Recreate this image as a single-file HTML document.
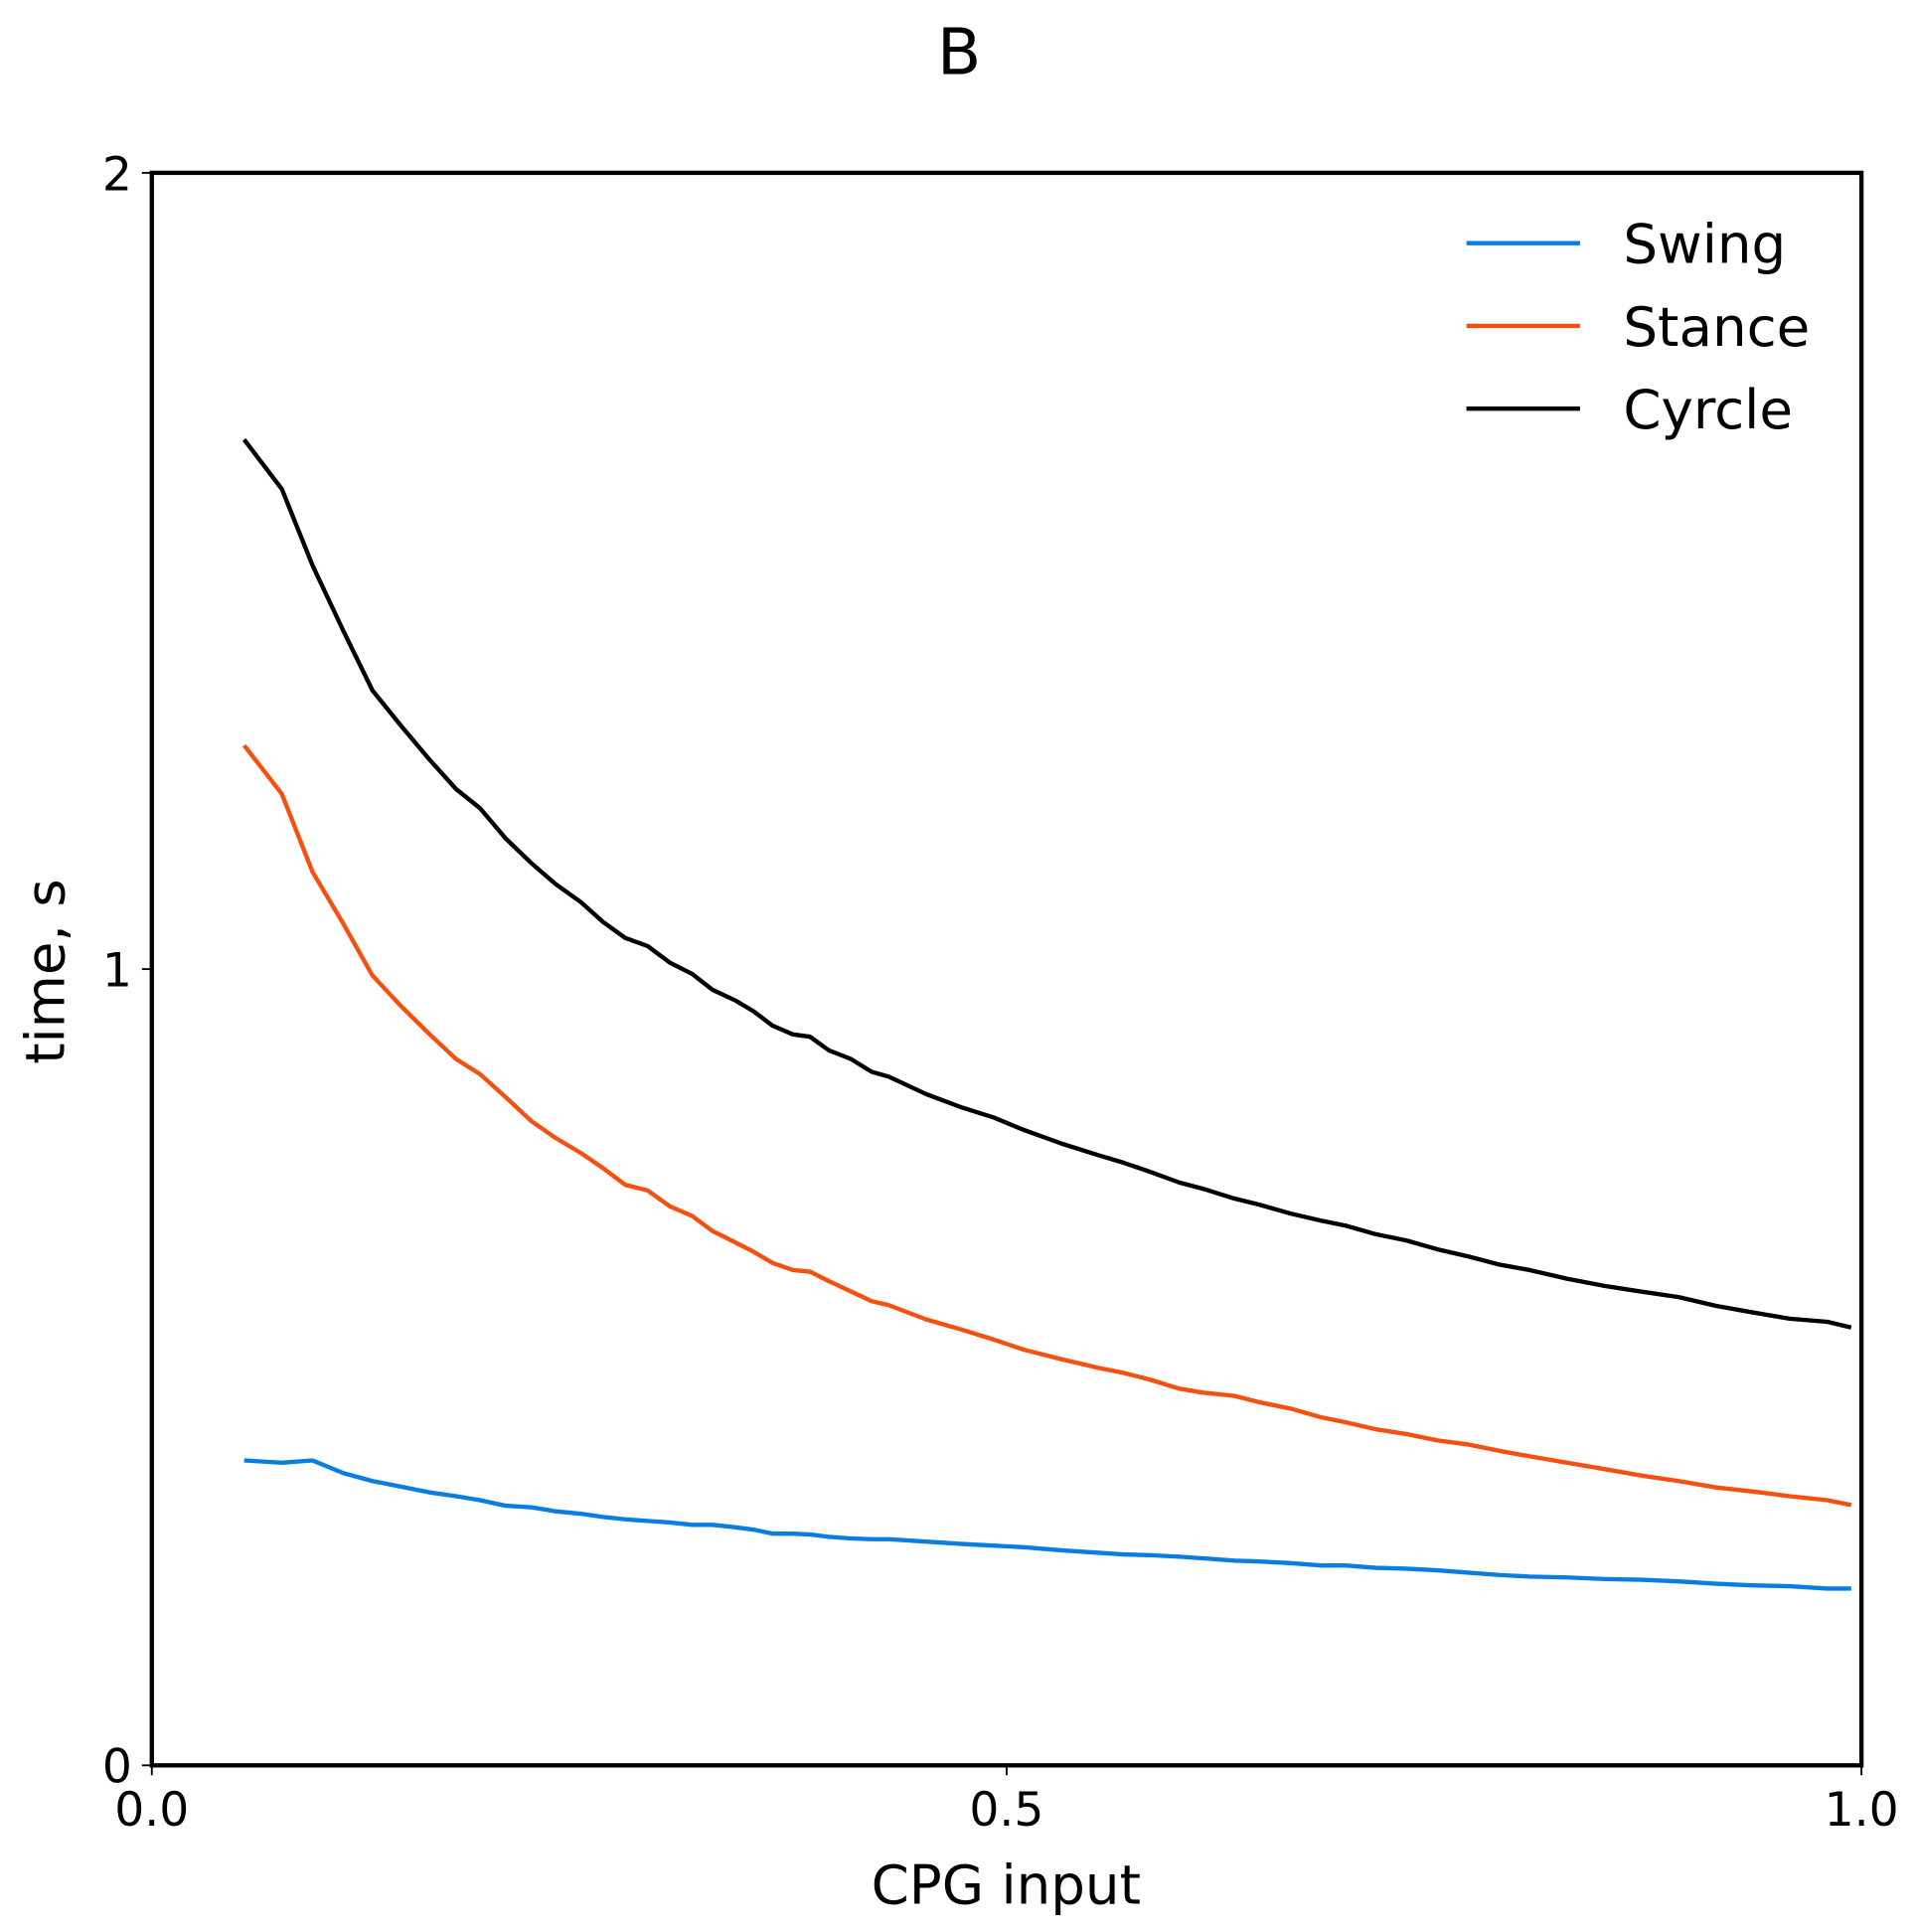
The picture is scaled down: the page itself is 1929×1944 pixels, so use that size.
<!DOCTYPE html>
<html><head><meta charset="utf-8"><style>
html,body{margin:0;padding:0;background:#fff;}
svg{display:block;font-family:"DejaVu Sans","Liberation Sans",sans-serif;}
</style></head><body>
<svg id="chart" width="1929" height="1944" viewBox="0 0 1553 1565" preserveAspectRatio="none" xmlns="http://www.w3.org/2000/svg">
<rect width="1553" height="1565" fill="#fff"/>
<text x="777" y="60" font-size="52" text-anchor="middle">B</text>
<g id="marks"></g>
<rect x="123" y="140" width="1385" height="1290" fill="none" stroke="#000" stroke-width="3.5"/>
<g id="ticks"></g>
<text x="815" y="1542" font-size="44" text-anchor="middle">CPG input</text>
<text transform="translate(52,787) rotate(-90)" font-size="44" text-anchor="middle">time, s</text>
<g>
<line x1="1188" y1="197" x2="1280" y2="197" stroke="#0a7de0" stroke-width="3.5"/>
<text x="1315" y="213" font-size="44">Swing</text>
<line x1="1188" y1="264" x2="1280" y2="264" stroke="#f5500f" stroke-width="3.5"/>
<text x="1315" y="280" font-size="44">Stance</text>
<line x1="1188" y1="331" x2="1280" y2="331" stroke="#000" stroke-width="3.5"/>
<text x="1315" y="347" font-size="44">Cyrcle</text>
</g>
</svg>
<script>
const xValues=[0.054,0.076,0.094,0.112,0.129,0.146,0.162,0.178,0.192,0.207,0.222,0.236,0.251,0.264,0.277,0.290,0.303,0.316,0.328,0.341,0.352,0.363,0.375,0.385,0.396,0.409,0.421,0.431,0.453,0.474,0.492,0.510,0.532,0.554,0.568,0.583,0.601,0.615,0.633,0.648,0.666,0.684,0.698,0.716,0.734,0.752,0.770,0.788,0.806,0.828,0.850,0.871,0.893,0.915,0.936,0.958,0.980,0.994];
const cycleValues=[1.665,1.603,1.507,1.425,1.350,1.305,1.264,1.226,1.202,1.164,1.133,1.107,1.084,1.059,1.039,1.029,1.008,0.994,0.974,0.961,0.947,0.929,0.918,0.915,0.898,0.887,0.871,0.865,0.843,0.826,0.814,0.798,0.781,0.766,0.757,0.746,0.732,0.724,0.712,0.704,0.693,0.684,0.678,0.667,0.659,0.648,0.639,0.629,0.622,0.611,0.602,0.595,0.588,0.577,0.569,0.561,0.557,0.550];
const stanceValues=[1.281,1.220,1.122,1.057,0.992,0.953,0.919,0.887,0.868,0.839,0.809,0.788,0.769,0.750,0.729,0.722,0.702,0.690,0.671,0.657,0.645,0.631,0.622,0.620,0.608,0.595,0.583,0.578,0.560,0.547,0.535,0.522,0.510,0.499,0.493,0.485,0.473,0.468,0.464,0.456,0.448,0.437,0.431,0.422,0.416,0.408,0.403,0.395,0.388,0.380,0.372,0.364,0.357,0.349,0.344,0.338,0.333,0.327];
const swingValues=[0.383,0.380,0.383,0.367,0.357,0.350,0.343,0.338,0.333,0.326,0.324,0.319,0.316,0.312,0.309,0.307,0.305,0.302,0.302,0.299,0.296,0.291,0.291,0.290,0.287,0.285,0.284,0.284,0.281,0.278,0.276,0.274,0.270,0.267,0.265,0.264,0.262,0.260,0.257,0.256,0.254,0.251,0.251,0.248,0.247,0.245,0.242,0.239,0.237,0.236,0.234,0.233,0.231,0.228,0.226,0.225,0.222,0.222];
const xTicks=[0,0.5,1];
const xTickLabels=["0.0","0.5","1.0"];
const yTicks=[0,1,2];
const yTickLabels=["0","1","2"];
const NS="http://www.w3.org/2000/svg";
function xs(v){return 123+v*1385;}
function ys(v){return 1430-v*645;}
const marks=document.getElementById('marks');
function drawLine(vals,color,name){
  const p=document.createElementNS(NS,'polyline');
  p.setAttribute('points',vals.map((v,i)=>xs(xValues[i]).toFixed(1)+','+ys(v).toFixed(1)).join(' '));
  p.setAttribute('fill','none');p.setAttribute('stroke',color);p.setAttribute('stroke-width','3.5');
  p.setAttribute('stroke-linejoin','round');
  
  
  marks.appendChild(p);
}
drawLine(swingValues,'#0a7de0','swing-line');
drawLine(stanceValues,'#f5500f','stance-line');
drawLine(cycleValues,'#000','cycle-line');
const ticks=document.getElementById('ticks');
xTicks.forEach((t,i)=>{
  const l=document.createElementNS(NS,'line');
  l.setAttribute('x1',xs(t));l.setAttribute('x2',xs(t));l.setAttribute('y1',1430);l.setAttribute('y2',1438);
  l.setAttribute('stroke','#000');l.setAttribute('stroke-width','1.5');
  
  
  ticks.appendChild(l);
  const tx=document.createElementNS(NS,'text');
  tx.setAttribute('x',xs(t));tx.setAttribute('y',1479);tx.setAttribute('font-size','38');tx.setAttribute('text-anchor','middle');
  tx.textContent=xTickLabels[i];
  
  
  ticks.appendChild(tx);
});
yTicks.forEach((t,i)=>{
  const l=document.createElementNS(NS,'line');
  l.setAttribute('x1',115);l.setAttribute('x2',123);l.setAttribute('y1',ys(t));l.setAttribute('y2',ys(t));
  l.setAttribute('stroke','#000');l.setAttribute('stroke-width','1.5');
  
  
  ticks.appendChild(l);
  const tx=document.createElementNS(NS,'text');
  tx.setAttribute('x',107);tx.setAttribute('y',ys(t)+14);tx.setAttribute('font-size','38');tx.setAttribute('text-anchor','end');
  tx.textContent=yTickLabels[i];
  
  
  ticks.appendChild(tx);
});
</script>
</body></html>
